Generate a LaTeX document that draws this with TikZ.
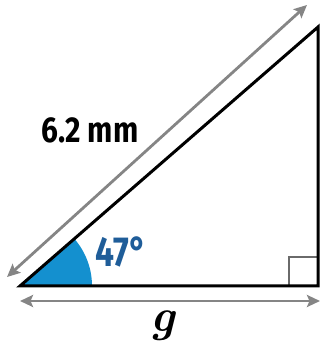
\documentclass[tikz,border=0pt]{standalone}
\usepackage{fontspec}
\setmainfont{Fira Sans}
\usetikzlibrary{arrows.meta}
\definecolor{sectorblue}{HTML}{1490CF}
\definecolor{textblue}{HTML}{1F5D99}
\definecolor{arrowgray}{HTML}{858585}
\tikzset{
  side/.style={line width=3pt, line join=miter},
  dimarrow/.style={arrowgray, line width=2.8pt, {Stealth[length=13pt,width=12pt,inset=2.5pt]}-{Stealth[length=13pt,width=12pt,inset=2.5pt]}},
  lbl/.style={inner sep=0pt, anchor=base, font=\bfseries}
}
\begin{document}
\begin{tikzpicture}[x=1pt,y=1pt]
\useasboundingbox (0,0) rectangle (321,345);
\coordinate (A) at (20,59);
\coordinate (B) at (318,59);
\coordinate (C) at (318,318);
% angle sector
\fill[sectorblue] (A) -- ++(72,0) arc[start angle=0, end angle=41, radius=72] -- cycle;
% right angle mark
\draw[arrowgray!80!black, line width=2.2pt] (289,59) |- (318,88);
% triangle
\draw[side] (A) -- (B) -- (C) -- cycle;
% dimension arrows
\coordinate (d1) at (20,44);
\coordinate (d2) at (320,44);
\draw[dimarrow] (d1) -- (d2);
\coordinate (h1) at (7,68);
\coordinate (h2) at (307,340);
\draw[dimarrow] (h1) -- (h2);
% labels
\node[lbl] (len) at (90,202) {\fontsize{36}{36}\selectfont\scalebox{0.83}[1]{6.2 mm}};
\node[lbl, textblue] (ang) at (121,78) {\fontsize{42}{42}\selectfont\scalebox{0.8}[1]{47°}};
\node[inner sep=0pt, anchor=base] (g) at (163,13) {\fontspec{Latin Modern Roman}\fontsize{46}{46}\selectfont\textbf{\textit{g}}};
\end{tikzpicture}
\end{document}
